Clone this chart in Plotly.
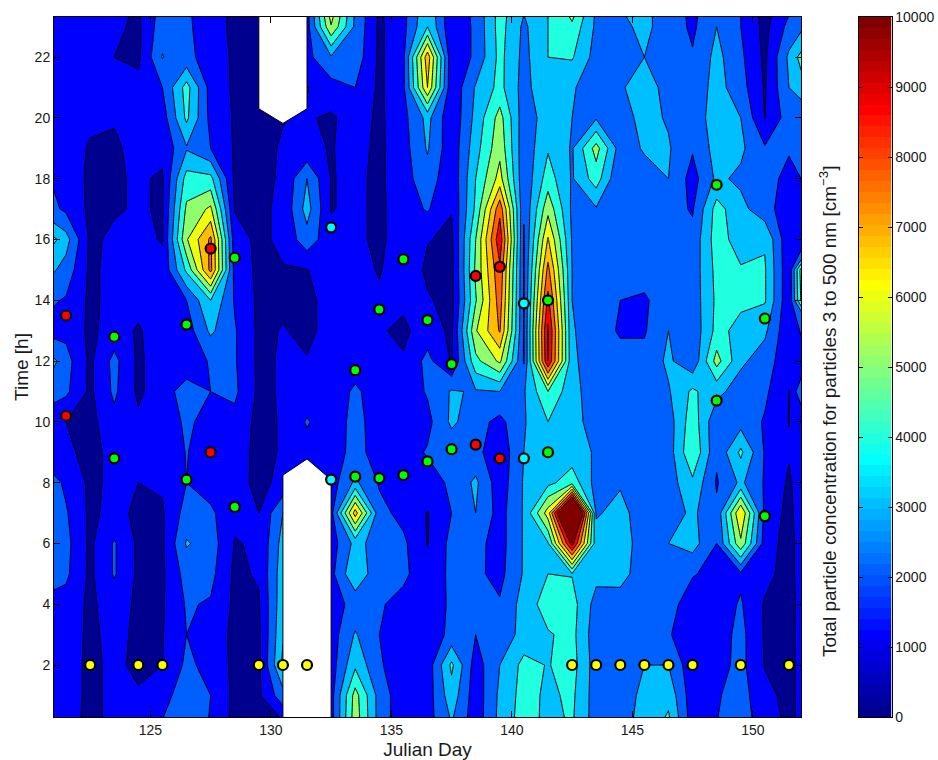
import plotly.graph_objects as go

# hours, top to bottom: 24 ... 0
hours = list(range(24, -1, -1))
days = [120.5 + i for i in range(33)]
N = None
# concentration in thousands of particles per cm3, one list per day (hour 24 first)
d120 = [2.0,2.1,2.1,2.1,2.2,2.2,2.2,2.6,5.0,3.6,2.3,1.8,4.0,3.0,1.3,1.6,2.8,2.6,3.0,2.8,1.7,1.8,2.0,1.8,1.8]
d121 = [1.7,1.7,1.7,1.7,1.6,1.5,1.6,1.8,3.4,2.6,1.9,1.7,2.4,2.2,1.0,1.2,1.8,2.1,2.3,2.2,1.6,1.5,1.4,1.4,1.3]
d122 = [1.4,1.4,1.4,1.4,1.2,.9,.8,.8,.8,.8,.8,.8,.8,.8,.7,.7,.8,.8,.8,.8,.8,.8,.8,.8,.8]
d123 = [1.2,1.2,1.0,1.2,1.05,.9,.9,.9,1.2,1.3,1.3,1.4,2.3,2.2,1.7,1.3,1.2,1.3,2.1,2.1,1.5,1.3,1.2,1.2,1.2]
d124 = [.95,.8,.8,1.3,1.3,1.2,1.1,1.1,1.2,1.3,1.3,.9,.8,.8,1.2,1.3,1.0,.8,.8,.8,.8,.8,.8,1.1,1.3]
d125 = [2.3,2.6,3.05,2.0,1.5,1.2,.9,.9,.95,1.2,1.4,1.5,1.6,1.6,1.3,1.2,1.1,.9,.85,.85,.9,.95,1.0,1.6,2.1]
d126 = [2.1,2.2,2.3,4.4,4.2,2.9,4.4,5.2,5.9,4.2,2.0,1.5,1.4,2.4,2.2,2.05,2.0,2.4,3.1,2.4,2.1,2.0,2.2,2.6,2.8]
d127 = [1.5,1.4,1.5,1.6,1.7,2.0,4.3,6.2,8.2,8.3,4.0,3.2,2.1,2.0,1.6,1.4,1.5,2.2,2.5,2.3,1.9,1.6,1.7,2.0,1.9]
d128 = [.8,.8,.85,.85,.9,.9,.8,.95,1.4,1.6,1.9,2.1,2.1,2.2,1.7,1.5,1.3,1.2,.95,.8,.8,.75,.75,.75,.7]
d129 = [.7,.7,.7,.7,.7,.7,.7,.8,.8,.8,.8,.8,.8,.8,.7,.7,.8,1.0,1.1,1.1,.9,.8,.8,.85,.7]
d130 = [N,N,N,N,N,1.1,1.15,1.2,1.2,.95,.85,1.05,1.1,1.1,1.1,1.1,1.2,3.0,3.4,3.6,3.7,3.9,4.2,2.6,.7]
d131 = [1.6,1.6,1.7,.95,1.1,1.2,3.0,3.4,2.6,.98,.8,.8,1.05,1.4,2.1,1.6,N,N,N,N,N,N,N,N,N]
d132 = [7.5,5.9,2.9,1.6,.85,.95,.95,.95,1.3,1.3,1.3,1.3,1.3,1.3,1.3,1.4,1.5,1.6,1.5,1.7,1.6,1.5,1.5,1.6,1.6]
d133 = [2.9,2.8,2.6,2.0,1.5,1.3,1.2,1.2,1.2,1.5,2.0,1.5,1.4,2.2,2.4,2.4,3.2,7.5,3.3,3.9,2.3,3.1,3.8,5.4,5.6]
d134 = [.95,.8,.8,.8,.8,.8,.8,.8,.8,.9,1.2,1.1,1.2,1.4,1.4,1.5,1.9,2.3,2.6,2.2,2.1,2.0,2.1,2.6,2.6]
d135 = [1.7,1.7,1.8,1.8,1.7,1.6,1.6,1.5,1.5,1.8,1.2,.8,1.1,1.4,1.4,1.5,1.6,1.7,2.2,2.2,1.7,1.6,1.5,1.3,1.3]
d136 = [3.7,4.0,7.6,7.0,3.3,3.1,2.6,2.1,1.05,.8,1.1,1.5,2.3,2.1,1.7,2.1,1.5,.95,.95,1.4,1.3,1.3,1.4,1.5,1.6]
d137 = [1.3,1.2,1.2,1.2,1.2,1.3,1.2,1.05,.8,.7,.7,.8,.9,3.1,3.2,2.3,2.2,2.0,2.3,2.2,2.2,2.3,4.2,3.6,3.0]
d138 = [2.3,2.2,2.2,3.1,3.3,3.6,4.0,4.2,5.0,5.2,4.9,5.9,4.7,2.9,2.4,2.3,3.2,3.0,2.3,2.2,2.2,2.0,1.5,1.4,1.4]
d139 = [4.4,4.4,4.3,4.3,5.4,5.7,6.4,8.7,9.7,8.8,8.5,8.1,6.2,3.0,1.7,1.3,1.4,1.6,1.6,1.7,2.1,2.3,3.0,3.2,3.3]
d140 = [3.3,2.8,2.7,2.6,2.4,2.3,2.2,2.1,1.9,1.9,1.9,1.9,1.9,2.9,2.9,3.0,3.1,3.1,3.1,3.1,3.4,3.4,4.3,4.4,4.5]
d141 = [4.0,4.0,4.0,3.9,3.5,3.9,4.5,5.7,7.1,8.3,9.3,10.2,10.0,5.0,4.0,3.7,3.7,6.5,3.9,4.0,4.5,3.9,3.95,3.8,3.7]
d142 = [6.5,4.7,4.1,3.1,3.0,2.9,2.9,2.8,2.9,3.0,3.0,3.1,3.2,3.3,3.5,3.4,4.6,16.0,10.5,3.95,4.4,4.3,4.4,4.2,4.1]
d143 = [2.9,2.8,2.6,2.5,2.9,5.4,4.5,2.9,2.2,2.3,2.3,2.4,2.4,2.5,2.4,2.9,2.6,2.9,3.4,3.3,2.6,2.4,2.5,2.5,2.5]
d144 = [3.1,2.8,2.9,2.9,2.6,2.5,2.0,2.4,2.3,2.3,2.0,1.9,2.3,2.5,2.5,2.6,2.9,3.3,3.5,3.4,2.5,2.4,2.3,2.4,2.6]
d145 = [3.2,3.2,3.0,3.4,3.3,3.1,2.6,2.4,2.3,2.3,1.9,1.9,2.3,2.4,2.4,2.4,2.5,2.5,2.5,2.4,2.3,2.3,3.0,3.3,3.4]
d146 = [2.6,2.6,2.6,2.7,2.9,3.1,3.0,2.4,2.3,2.4,2.4,3.0,3.2,2.9,2.5,2.5,2.5,2.5,3.0,2.5,2.5,2.1,3.0,3.7,4.3]
d147 = [1.7,1.8,2.1,2.3,2.3,2.1,1.6,1.9,2.3,2.4,2.4,2.3,2.2,4.2,4.6,4.9,3.8,3.2,3.4,2.1,1.3,1.3,1.3,1.4,1.5]
d148 = [2.7,3.0,3.3,3.4,3.6,3.4,3.2,4.4,4.5,4.3,4.2,4.3,5.4,3.3,2.2,2.2,1.9,2.2,2.0,1.6,1.5,1.5,1.6,1.9,2.0]
d149 = [2.0,2.0,2.2,2.4,3.0,3.2,2.8,3.3,3.5,4.1,4.2,3.7,3.2,2.5,2.6,4.2,3.2,7.0,5.8,1.8,2.1,2.3,2.3,2.4,2.4]
d150 = [.6,.7,.8,.9,.98,2.1,2.4,2.4,3.9,4.1,4.1,3.2,2.5,2.2,1.9,1.9,1.9,1.7,1.5,1.3,.9,.9,.95,1.3,1.6]
d151 = [1.5,2.3,3.2,3.0,2.5,2.1,1.7,1.4,1.2,1.2,1.2,1.2,1.3,.98,.98,1.1,.85,.7,.6,.6,.6,.6,.7,.7,.8]
d152 = [1.8,3.4,5.5,4.4,2.6,2.5,2.3,2.2,2.3,9.5,9.0,3.0,2.2,4.5,2.3,2.1,2.1,2.4,2.3,2.3,2.1,2.1,1.9,1.8,1.6]
by_day = [d120,d121,d122,d123,d124,d125,d126,d127,d128,d129,d130,d131,d132,d133,d134,d135,d136,
          d137,d138,d139,d140,d141,d142,d143,d144,d145,d146,d147,d148,d149,d150,d151,d152]

# unsampled periods
gap_top_x = [129.5, 129.5, 130.5, 131.5, 131.5]
gap_top_y = [23.6, 20.3, 19.82, 20.3, 23.6]
gap_bot_x = [130.5, 130.5, 131.5, 132.5, 132.5]
gap_bot_y = [0.0, 8.25, 8.78, 8.1, 0.0]

# sampled events
red_x = [121.5,121.5,127.5,127.5,138.5,139.5,138.5,139.5]
red_y = [13.5,10.2,15.7,9.0,14.8,15.1,9.25,8.8]
green_x = [123.5,123.5,126.5,126.5,128.5,128.5,133.5,133.5,134.5,134.5,135.5,135.5,136.5,136.5,137.5,137.5,141.5,141.5,148.5,148.5,150.5,150.5]
green_y = [12.8,8.8,13.2,8.1,15.4,7.2,11.7,8.2,13.7,8.15,15.35,8.25,13.35,8.7,11.9,9.1,14.0,9.0,17.8,10.7,13.4,6.9]
cyan_x = [132.5,132.5,140.5,140.5]
cyan_y = [16.4,8.1,13.9,8.8]
yellow_x = [122.5,124.5,125.5,129.5,130.5,131.5,142.5,143.5,144.5,145.5,146.5,147.5,149.5,151.5]
yellow_y = [2]*len(yellow_x)

cb_ticks = list(range(0, 10001, 1000))


def jet(i):
    r = 0 if i <= 23 else (i-23)/16 if i <= 39 else 1 if i <= 55 else 1-(i-55)/16
    g = 0 if i < 7 else (i-7)/16 if i <= 23 else 1 if i <= 39 else 1-(i-39)/16 if i <= 55 else 0
    b = .5625+i/16 if i <= 7 else 1 if i <= 23 else 1-(i-23)/16 if i <= 39 else 0
    return f"rgb({round(r*255)},{round(g*255)},{round(b*255)})"


band_index = [0, 7, 13, 19, 25, 32, 38, 43, 49, 55, 63]
band_scale = [[k/10, jet(i)] for k, i in enumerate(band_index)]

assert all(len(c) == 25 for c in by_day)
z = [[(c[r]*1000 if c[r] is not None else None) for c in by_day] for r in range(25)][::-1]
y = hours[::-1]

W, H = 938, 760
fig = go.Figure()
fig.add_trace(go.Contour(
    x=days, y=y, z=z, connectgaps=True, colorscale=band_scale, showscale=False,
    autocontour=False, contours=dict(start=1000, end=10000, size=1000, coloring="fill"),
    line=dict(color="black", width=1, smoothing=0), hoverinfo="skip"))
for gx, gy in ((gap_top_x, gap_top_y), (gap_bot_x, gap_bot_y)):
    fig.add_trace(go.Scatter(x=gx, y=gy, mode="lines", fill="toself", fillcolor="white",
                             line=dict(color="black", width=1), showlegend=False, hoverinfo="skip"))
for mx, my, col in ((yellow_x, yellow_y, "#ffff00"), (green_x, green_y, "#00ff00"),
                    (cyan_x, cyan_y, "#00ffff"), (red_x, red_y, "#ff0000")):
    fig.add_trace(go.Scatter(x=mx, y=my, mode="markers", showlegend=False,
                             marker=dict(color=col, size=10, line=dict(color="black", width=2.2))))

step = 10000/64
fig.add_trace(go.Heatmap(
    x=[0], y=[(i+.5)*step for i in range(64)], z=[[i] for i in range(64)],
    zmin=0, zmax=63, showscale=False,
    colorscale=[[i/63, jet(i)] for i in range(64)],
    xaxis="x2", yaxis="y2", hoverinfo="skip"))

font = dict(family="Liberation Sans, Arial, sans-serif", color="#1a1a1a")
axis = dict(showgrid=False, zeroline=False, showline=True, linecolor="black", linewidth=1,
            mirror="ticks", ticks="inside", ticklen=6, tickcolor="black", tickwidth=1,
            tickfont=dict(size=14, **font))
fig.update_layout(
    width=W, height=H, autosize=False, paper_bgcolor="white", plot_bgcolor="white",
    margin=dict(l=0, r=0, t=0, b=0, autoexpand=False), showlegend=False,
    xaxis=dict(axis, domain=[54/W, 801/W], range=[121, 152], tick0=125, dtick=5,
               title=dict(text="Julian Day", font=dict(size=19, **font), standoff=6)),
    yaxis=dict(axis, domain=[1-717/H, 1-17/H], range=[0.29, 23.32], tick0=2, dtick=2,
               title=dict(text="Time [h]", font=dict(size=19, **font), standoff=0)),
    xaxis2=dict(domain=[858.5/W, 891.5/W], range=[-.5, .5], showgrid=False, zeroline=False,
                showticklabels=False, ticks="", showline=True, linecolor="black", mirror=True,
                anchor="y2"),
    yaxis2=dict(axis, domain=[1-717/H, 1-17/H], range=[0, 10000], side="right", anchor="x2",
                tickvals=cb_ticks, ticklen=4, tickformat="d"),
    annotations=[dict(text="Total particle concentration for particles 3 to 500 nm [cm<sup>−3</sup>]",
                      xref="paper", yref="paper", x=828/W, y=1-412/H, xanchor="center", yanchor="middle",
                      textangle=-90, showarrow=False, font=dict(size=19, **font))],
)
fig.write_html("out.html", config=dict(displayModeBar=False),
               post_script="document.body.style.margin='0';")
